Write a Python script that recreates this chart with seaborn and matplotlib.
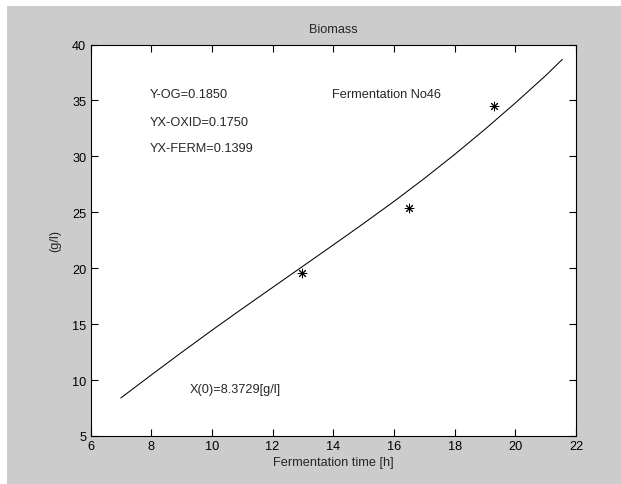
import matplotlib
matplotlib.use("Agg")
import matplotlib.pyplot as plt
import seaborn as sns
import pandas as pd
from matplotlib.patches import Rectangle

# simulated biomass curve
time_h = [7.0, 8.0, 9.0, 10.0, 11.0, 12.0, 13.0, 14.0, 15.0, 16.0,
          17.0, 18.0, 19.0, 20.0, 21.0, 21.55]
biomass = [8.4, 10.45, 12.47, 14.45, 16.38, 18.28, 20.18, 22.08, 24.0, 25.97,
           28.02, 30.17, 32.42, 34.77, 37.22, 38.67]

# measured samples
meas_time = [12.98, 16.51, 19.31]
meas_biomass = [19.6, 25.35, 34.5]

x_ticks = [6, 8, 10, 12, 14, 16, 18, 20, 22]
y_ticks = [5, 10, 15, 20, 25, 30, 35, 40]

GRAY = "#cccccc"

sns.set_style("ticks")
plt.rcParams["font.family"] = ["Liberation Sans", "DejaVu Sans"]
plt.rcParams["font.size"] = 9.2

fig = plt.figure(figsize=(6.21, 4.85), dpi=100, facecolor="white")
# gray figure area inside a thin white frame
fig.patches.append(Rectangle((7 / 621, 0), 1 - 7 / 621, 1 - 7 / 485,
                             transform=fig.transFigure, facecolor=GRAY,
                             edgecolor="none", zorder=-10))
ax = fig.add_axes([90.5 / 621, 1 - 437 / 485, (576 - 90.5) / 621, (437 - 45.5) / 485])
ax.set_facecolor("white")

curve = pd.DataFrame({"t": time_h, "x": biomass})
meas = pd.DataFrame({"t": meas_time, "x": meas_biomass})

sns.lineplot(data=curve, x="t", y="x", ax=ax, color="black", linewidth=0.75)
# MATLAB style asterisk markers
sns.scatterplot(data=meas, x="t", y="x", ax=ax, marker=(8, 2, 0), color="black",
                s=40, linewidth=0.7)

ax.set_xlim(6, 22)
ax.set_ylim(5, 40)
ax.set_xticks(x_ticks)
ax.set_yticks(y_ticks)
ax.tick_params(direction="in", length=5, width=0.8, top=True, right=True,
               labelsize=9.2, colors="black", pad=3)
for s in ax.spines.values():
    s.set_visible(True)
    s.set_color("black")
    s.set_linewidth(0.8)

ax.set_title("Biomass", fontsize=9.2, pad=9)
ax.set_xlabel("Fermentation time [h]", fontsize=9.2, labelpad=3)
ax.set_ylabel("(g/l)", fontsize=9.2, labelpad=8)

ax.text(7.94, 35.56, "Y-OG=0.1850", va="center", fontsize=9.2)
ax.text(7.94, 33.1, "YX-OXID=0.1750", va="center", fontsize=9.2)
ax.text(7.94, 30.75, "YX-FERM=0.1399", va="center", fontsize=9.2)
ax.text(13.95, 35.56, "Fermentation No46", va="center", fontsize=9.2)
ax.text(9.28, 9.2, "X(0)=8.3729[g/l]", va="center", fontsize=9.2)

fig.savefig("out.png", dpi=100, facecolor=fig.get_facecolor())
